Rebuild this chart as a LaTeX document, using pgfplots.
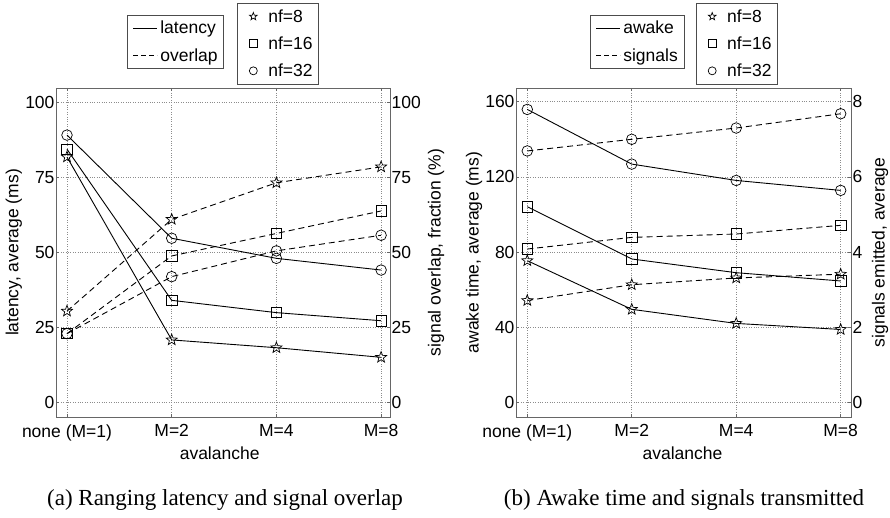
\documentclass[border=0pt]{standalone}
\usepackage{fontspec}
\setmainfont{Liberation Sans}
\newfontfamily\capfont{Liberation Serif}
\usepackage{pgfplots}
\pgfplotsset{compat=1.18}

% open five-pointed star, like matlab's 'p' marker
\pgfdeclareplotmark{pent}{%
  \pgfpathmoveto{\pgfpointpolar{90}{\pgfplotmarksize}}%
  \pgfpathlineto{\pgfpointpolar{126}{0.42\pgfplotmarksize}}%
  \pgfpathlineto{\pgfpointpolar{162}{\pgfplotmarksize}}%
  \pgfpathlineto{\pgfpointpolar{198}{0.42\pgfplotmarksize}}%
  \pgfpathlineto{\pgfpointpolar{234}{\pgfplotmarksize}}%
  \pgfpathlineto{\pgfpointpolar{270}{0.42\pgfplotmarksize}}%
  \pgfpathlineto{\pgfpointpolar{306}{\pgfplotmarksize}}%
  \pgfpathlineto{\pgfpointpolar{342}{0.42\pgfplotmarksize}}%
  \pgfpathlineto{\pgfpointpolar{18}{\pgfplotmarksize}}%
  \pgfpathlineto{\pgfpointpolar{54}{0.42\pgfplotmarksize}}%
  \pgfpathclose\pgfusepathqstroke}

\pgfplotsset{
  base/.style={
    scale only axis, width=334pt, height=329pt, anchor=south west,
    xtick={0,1,2,3}, xticklabels={none (M=1),M=2,M=4,M=8},
    tick align=inside, major tick length=3pt,
    axis line style={black!60, line width=0.6pt},
    every tick/.style={black!60, line width=0.6pt},
    tick label style={font=\fontsize{17.5}{20}\selectfont},
    xticklabel style={yshift=-4pt},
    label style={font=\fontsize{17.5}{20}\selectfont},
    /pgf/number format/assume math mode=true,
    legend style={draw=black!70, line width=0.6pt, fill=white,
      font=\fontsize{17.5}{20}\selectfont, anchor=north west,
      inner xsep=4pt, inner ysep=4pt, row sep=9pt},
    legend cell align=left,
  },
  leftax/.style={base, ytick pos=left,
    yticklabel style={xshift=2pt},
    grid=major, grid style={black!45, dotted, line width=0.7pt},
    legend image code/.code={\path[draw=none] (0pt,0pt) -- (27pt,0pt);
      \draw[##1] (2pt,0pt) -- (26pt,0pt);},
  },
  rightax/.style={base, axis x line=none, axis y line*=right,
    yticklabel style={xshift=-2pt},
    legend image code/.code={\path[draw=none] (0pt,0pt) -- (25pt,0pt);
      \draw[##1, mark size=4pt] plot coordinates {(12pt,0pt)};},
  },
  ln/.style={black, line width=0.9pt, forget plot},
  dl/.style={black, line width=0.9pt, dash pattern=on 6pt off 4pt, forget plot},
  s8/.style={mark=pent, mark size=5.8pt, mark options={solid, line width=0.7pt}},
  s16/.style={mark=square, mark size=5.2pt, mark options={solid, line width=0.7pt}},
  s32/.style={mark=o, mark size=5.3pt, mark options={solid, line width=0.7pt}},
}

\begin{document}
\begin{tikzpicture}
\path[use as bounding box] (0pt,0pt) rectangle (890pt,517pt);

% ---------------- (a) latency / overlap
\begin{axis}[leftax, at={(56pt,100pt)},
  xmin=-0.105, xmax=3.085, ymin=-5, ymax=104.7, ytick={0,25,50,75,100},
  xlabel={avalanche}, ylabel={latency, average (ms)},
  xlabel style={at={(axis description cs:0.49,-0.109)}, anchor=center},
  ylabel style={at={(axis description cs:-0.126,0.5)}, anchor=center},
  legend style={at={(rel axis cs:0.2126,1.222)}}]
\addplot[ln, s8]  coordinates {(0,81.7)(1,20.7)(2,18.1)(3,14.9)};
\addplot[ln, s16] coordinates {(0,84.3)(1,33.9)(2,29.8)(3,27.1)};
\addplot[ln, s32] coordinates {(0,89.0)(1,54.6)(2,47.9)(3,44.0)};
\addlegendimage{black, line width=0.9pt}
\addlegendentry{latency}
\addlegendimage{black, line width=0.9pt, dash pattern=on 5pt off 3pt}
\addlegendentry{overlap}
\end{axis}
\begin{axis}[rightax, at={(56pt,100pt)},
  xmin=-0.105, xmax=3.085, ymin=-5, ymax=104.7, ytick={0,25,50,75,100},
  ylabel={signal overlap, fraction (\%)},
  ylabel style={at={(axis description cs:1.138,0.5)}, anchor=center, rotate=0},
  legend style={at={(rel axis cs:0.542,1.258)}}]
\addplot[dl, s8]  coordinates {(0,30.3)(1,60.9)(2,73.1)(3,78.4)};
\addplot[dl, s16] coordinates {(0,22.8)(1,48.7)(2,56.2)(3,63.7)};
\addplot[dl, s32] coordinates {(0,22.8)(1,41.8)(2,50.4)(3,55.6)};
\addlegendimage{only marks, mark=pent, black, line width=0.7pt}
\addlegendentry{nf=8}
\addlegendimage{only marks, mark=square, black, line width=0.7pt}
\addlegendentry{nf=16}
\addlegendimage{only marks, mark=o, black, line width=0.7pt}
\addlegendentry{nf=32}
\end{axis}

% ---------------- (b) awake time / signals
\begin{axis}[leftax, at={(516pt,100pt)}, width=335pt,
  xmin=-0.108, xmax=3.099, ymin=-7.8, ymax=167.3, ytick={0,40,80,120,160},
  xlabel={avalanche}, ylabel={awake time, average (ms)},
  xlabel style={at={(axis description cs:0.497,-0.109)}, anchor=center},
  ylabel style={at={(axis description cs:-0.125,0.5)}, anchor=center},
  legend style={at={(rel axis cs:0.221,1.222)}}]
\addplot[ln, s8]  coordinates {(0,75.4)(1,49.5)(2,42.0)(3,38.8)};
\addplot[ln, s16] coordinates {(0,104.1)(1,76.3)(2,69.0)(3,64.6)};
\addplot[ln, s32] coordinates {(0,155.9)(1,126.8)(2,118.1)(3,112.8)};
\addlegendimage{black, line width=0.9pt}
\addlegendentry{awake}
\addlegendimage{black, line width=0.9pt, dash pattern=on 5pt off 3pt}
\addlegendentry{signals}
\end{axis}
\begin{axis}[rightax, at={(516pt,100pt)}, width=335pt,
  xmin=-0.108, xmax=3.099, ymin=-0.39, ymax=8.365, ytick={0,2,4,6,8},
  ylabel={signals emitted, average},
  ylabel style={at={(axis description cs:1.087,0.5)}, anchor=center, rotate=0},
  legend style={at={(rel axis cs:0.537,1.258)}}]
\addplot[dl, s8]  coordinates {(0,2.71)(1,3.13)(2,3.31)(3,3.41)};
\addplot[dl, s16] coordinates {(0,4.08)(1,4.39)(2,4.48)(3,4.71)};
\addplot[dl, s32] coordinates {(0,6.69)(1,7.00)(2,7.30)(3,7.68)};
\addlegendimage{only marks, mark=pent, black, line width=0.7pt}
\addlegendentry{nf=8}
\addlegendimage{only marks, mark=square, black, line width=0.7pt}
\addlegendentry{nf=16}
\addlegendimage{only marks, mark=o, black, line width=0.7pt}
\addlegendentry{nf=32}
\end{axis}

\node[font=\capfont\fontsize{23}{27}\selectfont] at (225pt,17pt) {(a) Ranging latency and signal overlap};
\node[font=\capfont\fontsize{23}{27}\selectfont] at (684pt,17pt) {(b) Awake time and signals transmitted};
\end{tikzpicture}
\end{document}
